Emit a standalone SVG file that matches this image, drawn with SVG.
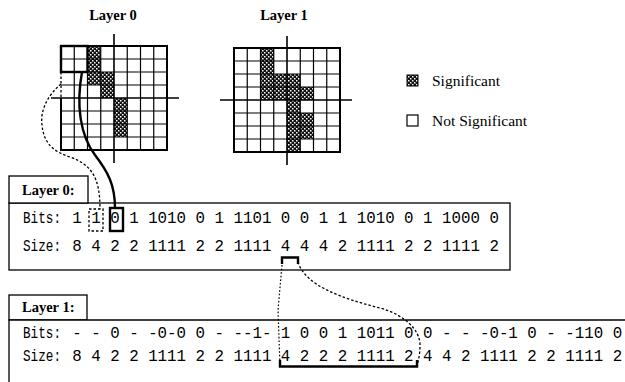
<svg xmlns="http://www.w3.org/2000/svg" width="625" height="382" viewBox="0 0 625 382">
  <style>
    .title { font-family: "Liberation Serif", "Times New Roman", serif; font-size: 14.5px; font-weight: bold; fill: #000; }
    .legend { font-family: "Liberation Serif", "Times New Roman", serif; font-size: 15.5px; fill: #000; }
    .mono { font-family: "Liberation Mono", "Courier New", monospace; font-size: 15.8px; fill: #000; }
    .cellbg { fill: #fff; }
    .sig { fill: url(#checker); }
    .gridline { fill: none; stroke: #000; stroke-width: 1.2; }
    .border { fill: none; stroke: #000; stroke-width: 2; }
    .axis { fill: none; stroke: #000; stroke-width: 1.6; }
    .box { fill: #fff; stroke: #000; stroke-width: 1.3; }
    .thick { fill: none; stroke: #000; stroke-width: 2.4; }
    .dashed { fill: none; stroke: #000; stroke-width: 1.3; stroke-dasharray: 2.5 2; }
    .dotted { fill: none; stroke: #000; stroke-width: 1.2; stroke-dasharray: 1.6 2; }
  </style>
  <defs>
    <!-- dark checker texture used for significant cells -->
    <pattern id="checker" width="4" height="4" patternUnits="userSpaceOnUse">
      <rect width="4" height="4" fill="#111"/>
      <rect x="0" y="0" width="1.5" height="1.5" fill="#fff"/>
      <rect x="2" y="2" width="1.5" height="1.5" fill="#fff"/>
    </pattern>
  </defs>

  <rect width="625" height="382" fill="#fff"/>

  <!-- Layer 0 grid -->
  <g id="grid-layer0">
    <text class="title" x="113" y="20" text-anchor="middle">Layer 0</text>
    <rect class="cellbg" x="61" y="46" width="106" height="104"/>
    <rect class="sig" x="87.5" y="46" width="13.25" height="39"/>
    <rect class="sig" x="100.75" y="72" width="13.25" height="26"/>
    <rect class="sig" x="114" y="98" width="13.25" height="39"/>
    <path class="gridline" d="M74.25,46V150M87.5,46V150M100.75,46V150M127.25,46V150M140.5,46V150M153.75,46V150
      M61,59H167M61,72H167M61,85H167M61,111H167M61,124H167M61,137H167"/>
    <path class="border" d="M61,72V46H167V150H61V98"/>
    <path class="dashed" d="M61,72V98"/>
    <path class="axis" d="M114,34V163M51,98H179"/>
    <rect class="thick" x="61" y="46" width="26.5" height="26"/>
  </g>

  <!-- Layer 1 grid -->
  <g id="grid-layer1">
    <text class="title" x="284" y="20" text-anchor="middle">Layer 1</text>
    <rect class="cellbg" x="234" y="48" width="106" height="104"/>
    <rect class="sig" x="260.5" y="48" width="13.25" height="52"/>
    <rect class="sig" x="273.75" y="74" width="13.25" height="26"/>
    <rect class="sig" x="287" y="74" width="13.25" height="78"/>
    <rect class="sig" x="300.25" y="87" width="13.25" height="13"/>
    <rect class="sig" x="300.25" y="113" width="13.25" height="26"/>
    <path class="gridline" d="M247.25,48V152M260.5,48V152M273.75,48V152M300.25,48V152M313.5,48V152M326.75,48V152
      M234,61H340M234,74H340M234,87H340M234,113H340M234,126H340M234,139H340"/>
    <rect class="border" x="234" y="48" width="106" height="104"/>
    <path class="axis" d="M287,36V165M220,100H352"/>
  </g>

  <!-- legend -->
  <g id="legend-significant">
    <rect x="407" y="75" width="11" height="11" fill="url(#checker)" stroke="#000" stroke-width="1"/>
    <text class="legend" x="432" y="86">Significant</text>
  </g>
  <g id="legend-not-significant">
    <rect x="407" y="115" width="11" height="11" fill="#fff" stroke="#000" stroke-width="1.2"/>
    <text class="legend" x="432" y="126">Not Significant</text>
  </g>

  <!-- Layer 0 bit stream -->
  <g id="stream-layer0">
    <rect class="box" x="9" y="203" width="501" height="67"/>
    <rect class="box" x="9" y="176" width="79" height="27"/>
    <text class="title" x="22" y="195">Layer 0:</text>
    <text class="mono" x="23" y="223" textLength="38" lengthAdjust="spacingAndGlyphs">Bits:</text>
    <text class="mono" x="72.3" y="223">1 1 0 1 1010 0 1 1101 0 0 1 1 1010 0 1 1000 0</text>
    <text class="mono" x="23" y="251" textLength="38" lengthAdjust="spacingAndGlyphs">Size:</text>
    <text class="mono" x="72.3" y="251">8 4 2 2 1111 2 2 1111 4 4 4 2 1111 2 2 1111 2</text>
    <rect class="dashed" x="89" y="209" width="14" height="22"/>
    <rect class="thick" x="110" y="208" width="13" height="23"/>
  </g>

  <!-- Layer 1 bit stream -->
  <g id="stream-layer1">
    <rect class="box" x="9" y="295" width="78" height="25"/>
    <path class="box" d="M626,320H9V383"/>
    <text class="title" x="22" y="312">Layer 1:</text>
    <text class="mono" x="23" y="338" textLength="38" lengthAdjust="spacingAndGlyphs">Bits:</text>
    <text class="mono" x="72.3" y="338">- - 0 - -0-0 0 - --1- 1 0 0 1 1011 0 0 - - -0-1 0 - -110 0</text>
    <text class="mono" x="23" y="361" textLength="38" lengthAdjust="spacingAndGlyphs">Size:</text>
    <text class="mono" x="72.3" y="361">8 4 2 2 1111 2 2 1111 4 2 2 2 1111 2 4 4 2 1111 2 2 1111 2</text>
  </g>

  <!-- connectors -->
  <g id="connectors">
    <!-- quadrant to its bit -->
    <path class="dashed" d="M61,84C48,95 40,110 42,125C44,145 55,152 70,157C92,165 100,178 100,209"/>
    <!-- top-left 2x2 block to its bit -->
    <path class="thick" d="M82,72C76,105 80,135 95,155C108,172 115,185 115,208"/>
    <!-- size-4 entry in layer 0 to its expansion in layer 1 -->
    <path class="thick" d="M282,264V257.5H298V264"/>
    <path class="dotted" d="M282,265L278,310L280,366"/>
    <path class="dashed" d="M298,262C305,285 340,298 380,308C405,315 420,330 420,345C420,355 418,362 417,366"/>
    <path class="thick" d="M280,360V366.5H417V360"/>
  </g>
</svg>
